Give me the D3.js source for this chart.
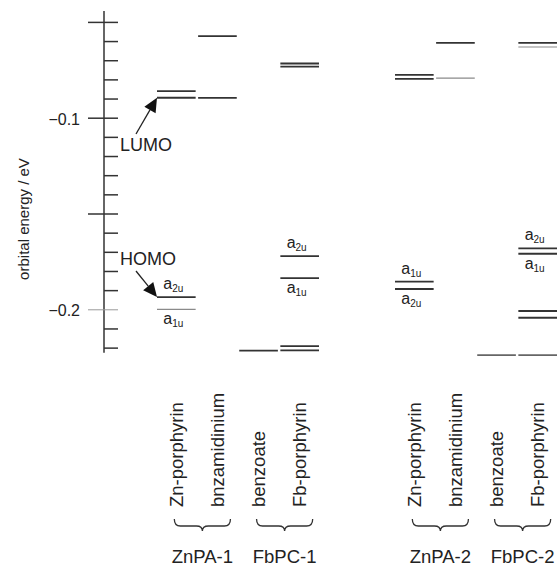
<!DOCTYPE html>
<html>
<head>
<meta charset="utf-8">
<script src="https://cdn.jsdelivr.net/npm/d3@7"></script>
<style>
  body { margin: 0; background: #fff; }
  svg { display: block; font-family: "Liberation Sans", Arial, sans-serif; }
  .tick text { font-size: 16px; fill: #222; }
</style>
</head>
<body>
<svg id="chart"></svg>
<script>
// groups and the two molecules in each
const groupNames = ["ZnPA-1", "FbPC-1", "ZnPA-2", "FbPC-2"];
const groupMolecules = [
    ["Zn-porphyrin", "bnzamidinium"],
    ["benzoate", "Fb-porphyrin"],
    ["Zn-porphyrin", "bnzamidinium"],
    ["benzoate", "Fb-porphyrin"]
];

// orbital energies (eV), one array per column
const znpa1Zn = [-0.0861, -0.0896, -0.1936];
const znpa1Bnz = [-0.0574, -0.0897];
const fbpc1Benz = [-0.2216];
const fbpc1Fb = [-0.0717, -0.0733, -0.1722, -0.1837, -0.2192, -0.2214];
const znpa2Zn = [-0.0776, -0.0797, -0.1856, -0.1894];
const znpa2Bnz = [-0.0609];
const fbpc2Benz = [];
const fbpc2Fb = [-0.0609, -0.1682, -0.1710, -0.2009, -0.2044];

// weaker (grey) levels
const znpa1ZnFaint = [-0.2000];
const znpa2BnzFaint = [-0.0793];
const fbpc2BenzFaint = [-0.2239];
const fbpc2FbFaint = [-0.0631, -0.2239];

const columnLevels = [znpa1Zn, znpa1Bnz, fbpc1Benz, fbpc1Fb, znpa2Zn, znpa2Bnz, fbpc2Benz, fbpc2Fb];
const columnFaint = [znpa1ZnFaint, [], [], [], [], znpa2BnzFaint, fbpc2BenzFaint, fbpc2FbFaint];

// symmetry labels: column index, energy, subscript, above/below
const symLabels = [
    [0, -0.1936, "2u", "above"], [0, -0.2000, "1u", "below"],
    [3, -0.1722, "2u", "above"], [3, -0.1837, "1u", "below"],
    [4, -0.1856, "1u", "above"], [4, -0.1894, "2u", "below"],
    [7, -0.1682, "2u", "above"], [7, -0.1710, "1u", "below"]
];

// axis
const axisRange = [-0.0443, -0.2227];
const majorTicks = [-0.05, -0.1, -0.15, -0.2];
const minorTicks = [-0.05, -0.06, -0.07, -0.08, -0.09, -0.1, -0.11, -0.12, -0.13, -0.14, -0.15,
    -0.16, -0.17, -0.18, -0.19, -0.2, -0.21, -0.22];
const labelledTicks = [-0.1, -0.2];

const width = 557, height = 566;
const axisX = 104;

const svg = d3.select("#chart").attr("width", width).attr("height", height);

const y = d3.scaleLinear().domain([-0.1, -0.2]).range([117.7, 309.3]);
const panelX = d3.scalePoint().domain([0, 1]).range([157, 395]);
const slotX = d3.scaleBand().domain([0, 1, 2, 3]).range([0, 162]).paddingInner(0.06);

// flatten columns
const columns = [];
groupNames.forEach((g, gi) => {
    groupMolecules[gi].forEach((m, mi) => {
        const idx = columns.length;
        const x0 = panelX(Math.floor(gi / 2)) + slotX((gi % 2) * 2 + mi);
        columns.push({ group: g, name: m, x0: x0, x1: x0 + slotX.bandwidth(),
            cx: x0 + slotX.bandwidth() / 2, levels: columnLevels[idx], faint: columnFaint[idx] });
    });
});

// y axis
const axisG = svg.append("g").attr("transform", `translate(${axisX},0)`);
axisG.append("line")
    .attr("y1", y(axisRange[0])).attr("y2", y(axisRange[1]))
    .attr("stroke", "#333").attr("stroke-width", 1.5);

const minorAxis = axisG.append("g")
    .call(d3.axisRight(y).tickValues(minorTicks).tickSize(14).tickFormat(""));
minorAxis.select(".domain").remove();
minorAxis.selectAll("line").attr("stroke", d => d === -0.2 ? "#999" : "#333")
    .attr("stroke-width", d => d === -0.2 ? 1 : 1.5);

const majorAxis = axisG.append("g")
    .call(d3.axisLeft(y).tickValues(majorTicks).tickSize(16).tickPadding(8)
        .tickFormat(d => labelledTicks.includes(d) ? d3.format(".1f")(d) : ""));
majorAxis.select(".domain").remove();
majorAxis.selectAll("line").attr("stroke", d => d === -0.2 ? "#999" : "#333")
    .attr("stroke-width", d => d === -0.2 ? 1 : 1.5);
majorAxis.selectAll("text").attr("font-family", null).attr("font-size", null).attr("dy", "0.4em");

svg.append("text")
    .attr("transform", `translate(29, 219) rotate(-90)`)
    .attr("text-anchor", "middle")
    .attr("font-size", 15)
    .attr("fill", "#222")
    .text("orbital energy / eV");

// energy levels
const colG = svg.selectAll(".col").data(columns).enter().append("g").attr("class", "col");

colG.selectAll(".lvl")
    .data(d => d.levels.map(v => ({ v: v, c: d })))
    .enter().append("line")
    .attr("class", "lvl")
    .attr("x1", d => d.c.x0).attr("x2", d => d.c.x1)
    .attr("y1", d => y(d.v)).attr("y2", d => y(d.v))
    .attr("stroke", "#333").attr("stroke-width", 1.8);

colG.selectAll(".faint")
    .data(d => d.faint.map(v => ({ v: v, c: d })))
    .enter().append("line")
    .attr("class", "faint")
    .attr("x1", d => d.c.x0).attr("x2", d => d.c.x1)
    .attr("y1", d => y(d.v)).attr("y2", d => y(d.v))
    .attr("stroke", d => d.v < -0.22 ? "#666" : "#8a8a8a")
    .attr("stroke-width", d => d.v < -0.22 ? 1.8 : 1.2);

// symmetry labels a1u / a2u
symLabels.forEach(([ci, v, sub, side]) => {
    const t = svg.append("text")
        .attr("x", columns[ci].cx - 3)
        .attr("y", y(v) + (side === "above" ? -8 : 15))
        .attr("text-anchor", "middle")
        .attr("font-size", 16)
        .attr("fill", "#222");
    t.append("tspan").text("a");
    t.append("tspan").attr("font-size", 10).attr("dy", 3).text(sub);
});

// LUMO / HOMO annotations with arrows
const annotations = [
    { text: "LUMO", col: 0, v: -0.0896, tx: 120, ty: 151, ax: 136, ay: 134 },
    { text: "HOMO", col: 0, v: -0.1936, tx: 120, ty: 265, ax: 136, ay: 271 }
];
annotations.forEach(a => {
    const tipX = columns[a.col].x0, tipY = y(a.v);
    svg.append("text").attr("x", a.tx).attr("y", a.ty)
        .attr("font-size", 18).attr("fill", "#222").text(a.text);
    const dx = tipX - a.ax, dy = tipY - a.ay, len = Math.hypot(dx, dy);
    const ux = dx / len, uy = dy / len;
    const headL = 14, headW = 6.5;
    const bx = tipX - ux * headL, by = tipY - uy * headL;
    svg.append("line").attr("x1", a.ax).attr("y1", a.ay).attr("x2", bx).attr("y2", by)
        .attr("stroke", "#222").attr("stroke-width", 1.3);
    svg.append("path")
        .attr("d", `M${tipX},${tipY}L${bx - uy * headW},${by + ux * headW}L${bx + uy * headW},${by - ux * headW}Z`)
        .attr("fill", "#111");
});

// column labels (rotated)
svg.selectAll(".collabel").data(columns).enter().append("text")
    .attr("class", "collabel")
    .attr("transform", d => `translate(${d.cx + 6.5}, 507) rotate(-90)`)
    .attr("font-size", 18.5)
    .attr("fill", "#222")
    .text(d => d.name);

// braces and group names
groupNames.forEach((g, gi) => {
    const a = columns[gi * 2], b = columns[gi * 2 + 1];
    const x0 = a.cx - 2, x1 = b.cx + 13, xm = (x0 + x1) / 2;
    const yt = 519, ym = 526, yb = 531, r = 6;
    svg.append("path")
        .attr("d", `M${x0},${yt}Q${x0},${ym} ${x0 + r},${ym}L${xm - r},${ym}Q${xm},${ym} ${xm},${yb}` +
            `Q${xm},${ym} ${xm + r},${ym}L${x1 - r},${ym}Q${x1},${ym} ${x1},${yt}`)
        .attr("fill", "none").attr("stroke", "#333").attr("stroke-width", 1.3);
    svg.append("text")
        .attr("x", xm).attr("y", 563)
        .attr("text-anchor", "middle")
        .attr("font-size", 18.5)
        .attr("fill", "#222")
        .text(g);
});
</script>
</body>
</html>
